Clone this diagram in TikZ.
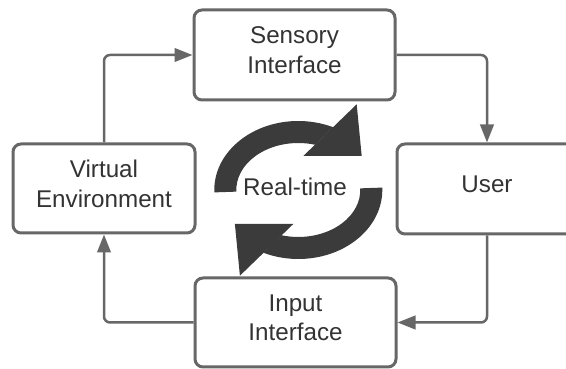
\documentclass[tikz,border=0pt]{standalone}
\usepackage{fontspec}
\setmainfont{Liberation Sans}
\usetikzlibrary{arrows.meta}
\definecolor{edge}{HTML}{676767}
\definecolor{ink}{HTML}{333333}
\definecolor{iconc}{HTML}{3B3B3B}
\begin{document}
\begin{tikzpicture}[x=1pt,y=1pt,
  box/.style={draw=edge, line width=3pt, rounded corners=8pt, fill=white,
    align=center, text=ink, font=\fontsize{24.2}{29.5}\selectfont,
    inner sep=0pt, text depth=10pt},
  link/.style={draw=edge, line width=2.5pt, rounded corners=6pt,
    -{Triangle[length=18pt,width=13.5pt]}},
  caption/.style={text=ink, font=\fontsize{24.2}{29.5}\selectfont, inner sep=0pt}
]
\useasboundingbox (0,0) rectangle (566,369);

% the four stages of the loop
\node[box, minimum width=201pt, minimum height=90pt] (sens) at (294.5,314) {Sensory\\Interface};
\node[box, minimum width=180pt, minimum height=90pt] (user) at (487,180) {User};
\node[box, minimum width=201pt, minimum height=89pt] (inp) at (295.5,46.5) {Input\\Interface};
\node[box, minimum width=182pt, minimum height=89pt] (virt) at (104,180.5) {Virtual\\Environment};

% connectors around the loop
\draw[link] (virt) |- (sens);
\draw[link] (sens) -| (user);
\draw[link] (user) |- (inp);
\draw[link] (inp) -| (virt);

% circular refresh arrows in the middle
\begin{scope}[shift={(298.3,179)}]
  \foreach \r in {0,180} {
    \begin{scope}[rotate=\r]
      \fill[iconc] (182:84pt and 69pt)
        arc[start angle=182, end angle=65.4, x radius=84pt, y radius=69pt]
        -- (74.2:62pt and 47pt)
        arc[start angle=74.2, end angle=182, x radius=62pt, y radius=47pt]
        -- cycle;
      \fill[iconc] (58.4pt,85.7pt) -- (5pt,34pt) -- (63.4pt,34pt) -- cycle;
    \end{scope}
  }
\end{scope}
\node[caption] (rt) at (295,182.5) {Real-time};
\end{tikzpicture}
\end{document}
